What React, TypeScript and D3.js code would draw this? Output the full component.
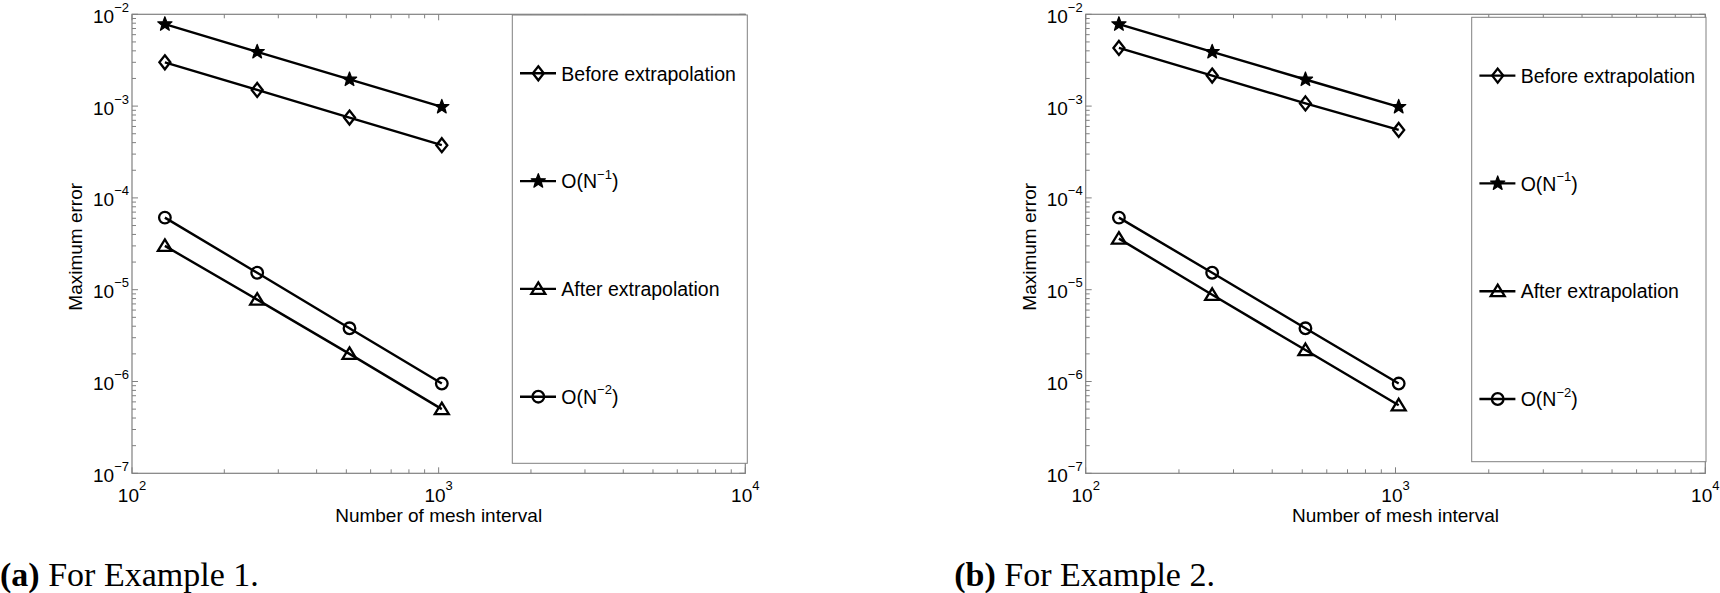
import React from "react";
import * as d3 from "d3";

// mesh sizes N
const meshN = [128, 256, 512, 1024];

// Example 1
const beforeEx1 = [3.0e-3, 1.5e-3, 7.5e-4, 3.75e-4];
const afterEx1 = [3.0e-5, 7.8e-6, 2.0e-6, 5.0e-7];
// Example 2
const beforeEx2 = [4.3e-3, 2.15e-3, 1.07e-3, 5.5e-4];
const afterEx2 = [3.6e-5, 8.8e-6, 2.2e-6, 5.5e-7];
// reference slopes
const orderOne = [7.8e-3, 3.9e-3, 1.95e-3, 9.8e-4];
const orderTwo = [6.1e-5, 1.53e-5, 3.8e-6, 9.5e-7];

const xTickExps = [2, 3, 4];
const yTickExps = [-7, -6, -5, -4, -3, -2];

const legendLabels = [
  { main: "Before extrapolation", sup: null, marker: "diamond" },
  { main: "O(N", sup: "−1", marker: "star" },
  { main: "After extrapolation", sup: null, marker: "triangle" },
  { main: "O(N", sup: "−2", marker: "circle" },
];

const SANS = "'Liberation Sans', Arial, Helvetica, sans-serif";
const SERIF = "'Liberation Serif', 'Times New Roman', serif";
const AXIS = "#808080";

const starPath = (r: number) => {
  const pts: string[] = [];
  for (let i = 0; i < 10; i++) {
    const rr = i % 2 === 0 ? r : r * 0.42;
    const a = -Math.PI / 2 + (i * Math.PI) / 5;
    pts.push(`${rr * Math.cos(a)},${rr * Math.sin(a)}`);
  }
  return "M" + pts.join("L") + "Z";
};

const Marker = ({ type, x, y }: { type: string; x: number; y: number }) => {
  const common = { stroke: "#000", strokeWidth: 2.3, fill: "none" };
  if (type === "diamond")
    return <path transform={`translate(${x},${y})`} d="M0,-7L5.5,0L0,7L-5.5,0Z" {...common} />;
  if (type === "triangle")
    return <path transform={`translate(${x},${y})`} d="M0,-6.5L7,5L-7,5Z" {...common} />;
  if (type === "circle") return <circle cx={x} cy={y} r={5.8} {...common} />;
  return (
    <path
      transform={`translate(${x},${y})`}
      d={starPath(7.5)}
      fill="#000"
      stroke="#000"
      strokeWidth={1.2}
      strokeLinejoin="round"
    />
  );
};

const Panel = ({ cfg, before, after }: any) => {
  const x = d3.scaleLog().domain([100, 10000]).range([cfg.x0, cfg.x1]);
  const y = d3.scaleLog().domain([1e-7, 1e-2]).range([cfg.y1, cfg.y0]);
  const line = d3
    .line<number>()
    .x((_, i) => x(meshN[i]))
    .y((d) => y(d));

  const series = [
    { values: before, marker: "diamond" },
    { values: orderOne, marker: "star" },
    { values: after, marker: "triangle" },
    { values: orderTwo, marker: "circle" },
  ];

  const isMajor = (v: number) => Math.abs(Math.log10(v) - Math.round(Math.log10(v))) < 1e-9;
  const xt = x.ticks();
  const yt = y.ticks();
  const [X0, X1] = x.range();
  const [Y1, Y0] = y.range();
  const lg = cfg.legend;

  return (
    <g>
      {/* axes box */}
      <rect x={X0} y={Y0} width={X1 - X0} height={Y1 - Y0} fill="none" stroke={AXIS} strokeWidth={1.2} />
      {xt.map((t, i) => {
        const len = isMajor(t) ? 6 : 4;
        return (
          <g key={"xt" + i} stroke={AXIS} strokeWidth={1}>
            <line x1={x(t)} x2={x(t)} y1={Y1} y2={Y1 - len} />
            <line x1={x(t)} x2={x(t)} y1={Y0} y2={Y0 + len} />
          </g>
        );
      })}
      {yt.map((t, i) => {
        const len = isMajor(t) ? 6 : 4;
        return (
          <g key={"yt" + i} stroke={AXIS} strokeWidth={1}>
            <line x1={X0} x2={X0 + len} y1={y(t)} y2={y(t)} />
            <line x1={X1} x2={X1 - len} y1={y(t)} y2={y(t)} />
          </g>
        );
      })}
      {/* tick labels */}
      {yTickExps.map((e) => (
        <text
          key={"yl" + e}
          x={X0 - 3}
          y={y(Math.pow(10, e)) + 8.4}
          textAnchor="end"
          fontFamily={SANS}
          fontSize={19}
          fill="#000"
        >
          <tspan>10</tspan>
          <tspan fontSize={13} dy={-11}>
            {"−" + Math.abs(e)}
          </tspan>
        </text>
      ))}
      {xTickExps.map((e) => (
        <text
          key={"xl" + e}
          x={x(Math.pow(10, e))}
          y={Y1 + 28.4}
          textAnchor="middle"
          fontFamily={SANS}
          fontSize={19}
          fill="#000"
        >
          <tspan>10</tspan>
          <tspan fontSize={13} dy={-11.5}>
            {String(e)}
          </tspan>
        </text>
      ))}
      {/* axis labels */}
      <text
        x={(X0 + X1) / 2}
        y={Y1 + 48.4}
        textAnchor="middle"
        fontFamily={SANS}
        fontSize={19}
        fill="#000"
      >
        Number of mesh interval
      </text>
      <text
        transform={`translate(${X0 - 50},${(Y0 + Y1) / 2 + 3}) rotate(-90)`}
        textAnchor="middle"
        fontFamily={SANS}
        fontSize={19}
        fill="#000"
      >
        Maximum error
      </text>
      {/* data */}
      {series.map((s, si) => (
        <g key={"s" + si}>
          <path d={line(s.values) || ""} fill="none" stroke="#000" strokeWidth={2.4} />
          {s.values.map((v: number, i: number) => (
            <Marker key={i} type={s.marker} x={x(meshN[i])} y={y(v)} />
          ))}
        </g>
      ))}
      {/* legend */}
      <rect x={lg.x0} y={lg.y0} width={lg.x1 - lg.x0} height={lg.y1 - lg.y0} fill="#fff" stroke={AXIS} strokeWidth={1} />
      {legendLabels.map((l, i) => {
        const ly = lg.y0 + 58.3 + i * 107.8;
        return (
          <g key={"lg" + i}>
            <line x1={lg.x0 + 7.7} x2={lg.x0 + 43.7} y1={ly} y2={ly} stroke="#000" strokeWidth={2.4} />
            <Marker type={l.marker} x={lg.x0 + 26} y={ly} />
            <text x={lg.x0 + 49} y={ly + 7.2} fontFamily={SANS} fontSize={19.5} fill="#000">
              <tspan>{l.main}</tspan>
              {l.sup && (
                <>
                  <tspan fontSize={13} dy={-9.5}>
                    {l.sup}
                  </tspan>
                  <tspan dy={9.5}>)</tspan>
                </>
              )}
            </text>
          </g>
        );
      })}
      {/* caption */}
      <text x={cfg.capX} y={586} fontFamily={SERIF} fontSize={34} fill="#000">
        <tspan fontWeight="bold">{cfg.capTag}</tspan>
        <tspan>{" " + cfg.capText}</tspan>
      </text>
    </g>
  );
};

const leftCfg = {
  x0: 132,
  x1: 745.3,
  y0: 14.3,
  y1: 473.3,
  legend: { x0: 512.3, x1: 747.3, y0: 15, y1: 463.3 },
  capX: 0,
  capTag: "(a)",
  capText: "For Example 1.",
};

const rightCfg = {
  x0: 1085.7,
  x1: 1705.3,
  y0: 14.3,
  y1: 473.3,
  legend: { x0: 1471.7, x1: 1706, y0: 17.3, y1: 461.7 },
  capX: 954.3,
  capTag: "(b)",
  capText: "For Example 2.",
};

export default function App() {
  return (
    <svg
      width={1720}
      height={593}
      viewBox="0 0 1720 593"
      style={{ position: "absolute", left: 0, top: 0, background: "#fff" }}
    >
      <rect width={1720} height={593} fill="#fff" />
      <Panel cfg={leftCfg} before={beforeEx1} after={afterEx1} />
      <Panel cfg={rightCfg} before={beforeEx2} after={afterEx2} />
    </svg>
  );
}
